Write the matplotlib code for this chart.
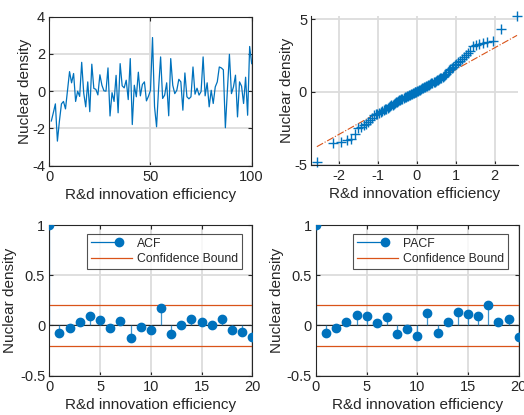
import numpy as np
import matplotlib
matplotlib.use("Agg")
import matplotlib.pyplot as plt
from matplotlib.lines import Line2D
from matplotlib.legend_handler import HandlerBase
from statistics import NormalDist

plt.rcParams['font.family'] = ['Liberation Sans', 'DejaVu Sans']
plt.rcParams['axes.unicode_minus'] = False

# ---- data ----
series = [-1.6, -1.15, -0.68, -2.68, -1.6, -0.68, -0.55, -0.95, 0.05, 1.05,
          0.45, 0.95, -0.55, 0.0, -0.28, 1.55, -0.1, -0.84, 0.5, -1.1,
          1.45, 0.15, 0.1, -0.2, 0.88, 0.32, 0.02, 0.0, 1.25, -1.33,
          -0.08, -0.55, 0.85, -1.16, 1.48, 0.29, 0.18, 0.59, -0.45, 1.75,
          -1.79, 0.32, -0.3, 1.02, -0.25, 0.36, 0.5, -0.52, -0.27, 0.05,
          2.88, -0.84, -1.91, 0.14, 1.84, -0.39, -0.21, 0.45, -1.32, 1.75,
          0.32, -0.13, 0.05, 0.64, 0.5, -1.02, 0.98, -0.3, -0.41, -0.3,
          1.3, -0.16, 0.16, -0.21, -0.02, 1.84, -0.25, 0.45, -0.84, 0.05,
          -0.66, 0.23, 0.5, 1.3, 1.25, 1.15, -1.96, 0.05, 1.98, -0.13,
          0.23, 0.86, -1.38, 0.5, 0.27, -0.66, 0.75, -1.29, 2.4, 1.48]

qq_sample = [-4.85, -3.52, -3.43, -3.30, -3.25, -2.92, -2.48, -2.42, -2.30, -2.20,
             -2.05, -1.92, -1.78, -1.62, -1.55, -1.50, -1.45, -1.38, -1.30, -1.25,
             -1.20, -1.15, -1.10, -1.03, -0.98, -0.93, -0.88, -0.83, -0.78, -0.72,
             -0.67, -0.62, -0.58, -0.54, -0.50, -0.46, -0.42, -0.38, -0.34, -0.30,
             -0.27, -0.24, -0.20, -0.17, -0.13, -0.10, -0.07, -0.04, -0.01, 0.02,
             0.05, 0.08, 0.12, 0.16, 0.20, 0.24, 0.28, 0.32, 0.36, 0.40,
             0.43, 0.47, 0.51, 0.55, 0.59, 0.63, 0.67, 0.71, 0.75, 0.80,
             0.84, 0.88, 0.93, 0.98, 1.05, 1.11, 1.18, 1.26, 1.36, 1.48,
             1.58, 1.66, 1.74, 1.82, 1.92, 2.04, 2.16, 2.28, 2.40, 2.52,
             2.68, 2.80, 3.15, 3.25, 3.32, 3.40, 3.45, 3.52, 4.34, 5.20]

lags = list(range(21))
acf_vals = [1.0, -0.07, -0.023, 0.03, 0.09, 0.053, -0.023, 0.043, -0.12, -0.013,
            -0.047, 0.173, -0.086, 0.007, 0.06, 0.03, 0.007, 0.06, -0.047, -0.066,
            -0.113]
pacf_vals = [1.0, -0.07, -0.03, 0.03, 0.103, 0.09, 0.02, 0.08, -0.08, -0.033,
             -0.106, 0.126, -0.076, 0.03, 0.136, 0.11, 0.09, 0.2, 0.03, 0.06,
             -0.116]
conf_bound = 0.2

xlabel = "R&d innovation efficiency"
ylabel = "Nuclear density"

# ---- style ----
BLUE = "#0072BD"
RED = "#D95319"
AXC = "#262626"
GRIDC = "#dcdcdc"
FS = 10.5


def style_axes(ax, box=True, ypad=3):
    ax.set_axisbelow(True)
    ax.grid(True, color=GRIDC, linewidth=1.3)
    for side in ("top", "right"):
        ax.spines[side].set_visible(box)
    for sp in ax.spines.values():
        sp.set_color(AXC)
        sp.set_linewidth(0.8)
    ax.tick_params(direction="in", length=3, width=0.8, colors=AXC,
                   labelsize=FS, top=box, right=box, pad=3)
    ax.set_xlabel(xlabel, fontsize=FS + 0.5, color=AXC, labelpad=3)
    ax.set_ylabel(ylabel, fontsize=FS + 0.5, color=AXC, labelpad=ypad)


class StemLegendHandler(HandlerBase):
    def create_artists(self, legend, orig_handle, xdescent, ydescent,
                       width, height, fontsize, trans):
        y = height / 2 - ydescent
        x0 = -xdescent
        x1 = x0 + 0.68 * width
        line = Line2D([x0, x1], [y, y], color=BLUE, lw=0.9, transform=trans)
        mark = Line2D([x1], [y], marker="o", color=BLUE, markersize=6,
                      linestyle="none", transform=trans)
        return [line, mark]


fig = plt.figure(figsize=(5.24, 4.15), dpi=100)

# time series
ax1 = fig.add_axes([0.0941, 0.6007, 0.3862, 0.3591])
ax1.plot(range(1, len(series) + 1), series, color=BLUE, lw=0.9)
ax1.set_xlim(0, 100)
ax1.set_ylim(-4, 4)
ax1.set_xticks([0, 50, 100])
ax1.set_yticks([-4, -2, 0, 2, 4])
style_axes(ax1, box=True, ypad=0)

# normal probability plot
ax2 = fig.add_axes([0.594, 0.6036, 0.3945, 0.3586])
n = len(qq_sample)
nd = NormalDist()
theo = np.array([nd.inv_cdf((i - 0.5) / n) for i in range(1, n + 1)])
samp = np.sort(np.array(qq_sample))
q1s, q3s = np.percentile(samp, [25, 75])
q1t, q3t = nd.inv_cdf(0.25), nd.inv_cdf(0.75)
slope = (q3s - q1s) / (q3t - q1t)
icpt = q1s - slope * q1t
xl = np.array([theo[0], theo[-1]])
ax2.plot(xl, icpt + slope * xl, color=RED, lw=0.8, linestyle="-.")
ax2.plot(theo, samp, linestyle="none", marker="+", color=BLUE,
         markersize=7, markeredgewidth=1.0, clip_on=False)
ax2.set_xlim(-2.72, 2.6)
ax2.set_ylim(-5, 5.25)
ax2.set_xticks([-2, -1, 0, 1, 2])
ax2.set_yticks([-5, 0, 5])
style_axes(ax2, box=False, ypad=0)


def stem_panel(ax, vals, name):
    ax.axhline(0, color=AXC, lw=0.8, zorder=2)
    ml, sl, bl = ax.stem(lags, vals, basefmt=" ")
    plt.setp(sl, color=BLUE, linewidth=0.9, alpha=0.75)
    plt.setp(ml, color=BLUE, markersize=6, zorder=3)
    ax.axhline(conf_bound, color=RED, lw=0.9, zorder=2)
    ax.axhline(-conf_bound, color=RED, lw=0.9, zorder=2)
    ax.set_xlim(0, 20)
    ax.set_ylim(-0.5, 1)
    ax.set_xticks([0, 5, 10, 15, 20])
    ax.set_yticks([-0.5, 0, 0.5, 1])
    ax.set_yticklabels(["-0.5", "0", "0.5", "1"])
    style_axes(ax, box=True, ypad=2)
    stem_handle = Line2D([], [], color=BLUE)
    bound_handle = Line2D([], [], color=RED, lw=0.9)
    leg = ax.legend([stem_handle, bound_handle], [name, "Confidence Bound"],
                    handler_map={stem_handle: StemLegendHandler()},
                    loc="upper right", bbox_to_anchor=(0.948, 0.94),
                    fontsize=8.8, frameon=True, fancybox=False,
                    handlelength=3.4, handletextpad=0.4, borderpad=0.3,
                    labelspacing=0.3, borderaxespad=0)
    leg.get_frame().set_edgecolor(AXC)
    leg.get_frame().set_linewidth(0.8)
    for t in leg.get_texts():
        t.set_color(AXC)


ax3 = fig.add_axes([0.0941, 0.0947, 0.3874, 0.3631])
stem_panel(ax3, acf_vals, "ACF")

ax4 = fig.add_axes([0.603, 0.0947, 0.3869, 0.3631])
stem_panel(ax4, pacf_vals, "PACF")

fig.savefig("out.png", dpi=100)
